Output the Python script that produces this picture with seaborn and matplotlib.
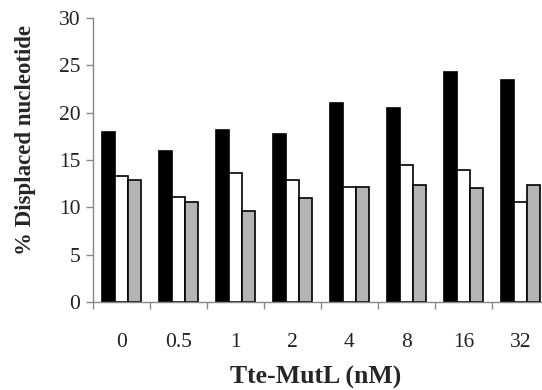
import pandas as pd
import numpy as np
import seaborn as sns
import matplotlib.pyplot as plt
from matplotlib.ticker import FixedLocator

# data
concentrations = ['0', '0.5', '1', '2', '4', '8', '16', '32']
series_black = [18.0, 16.0, 18.2, 17.7, 21.0, 20.5, 24.3, 23.5]
series_white = [13.3, 11.1, 13.6, 12.9, 12.1, 14.5, 13.9, 10.6]
series_gray = [12.85, 10.6, 9.6, 11.0, 12.2, 12.35, 12.0, 12.4]
series_names = ['black', 'white', 'gray']

df = pd.DataFrame({
    'conc': concentrations * 3,
    'value': series_black + series_white + series_gray,
    'series': np.repeat(series_names, len(concentrations)),
})

sns.set_style('white')
plt.rcParams['font.family'] = ['Liberation Serif', 'DejaVu Serif']

fig = plt.figure(figsize=(5.42, 3.90), dpi=100)
# axes runs a little past the right edge, as in the reference
ax = fig.add_axes([93 / 542, 88 / 390, 456 / 542, 284 / 390])

sns.barplot(data=df, x='conc', y='value', hue='series', order=concentrations,
            hue_order=series_names, palette=['black', 'white', '#b4b4b4'],
            edgecolor='black', linewidth=1.2, width=0.69, gap=0,
            legend=False, ax=ax)

ax.set_xlim(-0.5, len(concentrations) - 0.5)
ax.set_ylim(0, 30)
ax.set_yticks(range(0, 31, 5))
ax.tick_params(axis='y', labelsize=15.5, length=5, width=1, color='#888888',
               labelcolor='#222222', direction='out', left=True, pad=4)
ax.tick_params(axis='x', which='major', labelsize=15.5, length=0, pad=22,
               labelcolor='#222222')
ax.xaxis.set_minor_locator(FixedLocator(np.arange(-0.5, len(concentrations), 1)))
ax.tick_params(axis='x', which='minor', length=5, width=1, color='#888888',
               direction='out', bottom=True)

for side in ['top', 'right']:
    ax.spines[side].set_visible(False)
for side in ['left', 'bottom']:
    ax.spines[side].set_color('#888888')
    ax.spines[side].set_linewidth(1)

ax.set_xlabel('Tte-MutL (nM)', fontsize=18.5, fontweight='bold')
ax.set_ylabel('% Displaced nucleotide', fontsize=16.5, fontweight='bold')
ax.xaxis.set_label_coords(0.489, -0.225)
ax.yaxis.set_label_coords(-0.125, 0.57)

fig.savefig('out.png', dpi=100)
